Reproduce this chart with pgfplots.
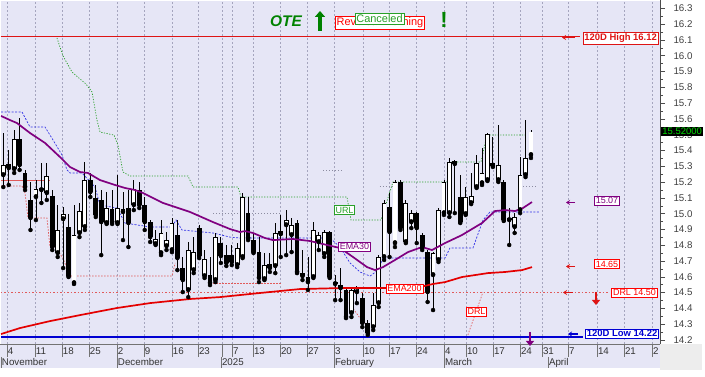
\documentclass[border=0pt]{standalone}
\usepackage{fontspec}
\setmainfont{Liberation Sans}
\usepackage{pgfplots}
\pgfplotsset{compat=1.18}
\usepackage{pgfplotstable}
\usetikzlibrary{arrows.meta}

\definecolor{bgl}{RGB}{230,230,246}
\definecolor{gridc}{RGB}{165,165,190}
\definecolor{emap}{RGB}{128,0,128}
\definecolor{emar}{RGB}{228,0,0}
\definecolor{hired}{RGB}{222,20,20}
\definecolor{lowblue}{RGB}{0,0,210}
\definecolor{tsblue}{RGB}{50,50,230}
\definecolor{urlg}{RGB}{40,160,40}
\definecolor{drlr}{RGB}{225,90,90}
\definecolor{otegreen}{RGB}{0,130,0}
\definecolor{dotg}{RGB}{140,140,160}
\definecolor{tagg}{RGB}{0,220,0}

\pgfplotstableread{
k o h l c
0 15.245 15.511 15.169 15.308
1 15.315 15.403 15.182 15.289
2 15.283 15.530 15.258 15.473
3 15.473 15.606 15.277 15.308
4 15.258 15.277 15.150 15.169
5 15.087 15.201 14.897 14.973
6 15.106 15.213 14.960 15.156
7 15.150 15.321 15.068 15.163
8 15.131 15.321 15.087 15.239
9 15.112 15.150 14.770 14.789
10 14.751 15.055 14.726 14.897
11 14.966 15.042 14.656 14.998
12 14.916 14.998 14.599 14.605
13 14.561 15.055 14.555 14.865
14 14.878 15.068 14.852 15.017
15 14.916 15.327 14.897 15.213
16 15.213 15.258 15.106 15.137
17 15.099 15.182 14.979 14.992
18 15.087 15.150 14.738 14.947
19 14.941 15.137 14.935 15.036
20 15.030 15.150 14.935 14.947
21 14.941 15.245 14.935 15.036
22 15.011 15.137 14.833 15.030
23 15.036 15.150 14.789 14.941
24 15.055 15.213 15.023 15.156
25 15.150 15.201 15.036 15.055
26 15.055 15.106 14.897 14.947
27 14.947 14.960 14.821 14.852
28 14.808 14.897 14.802 14.840
29 14.751 14.960 14.738 14.878
30 14.795 14.884 14.770 14.833
31 14.770 14.973 14.757 14.941
32 14.865 14.960 14.643 14.719
33 14.656 14.726 14.504 14.580
34 14.517 14.821 14.472 14.770
35 14.643 14.852 14.624 14.757
36 14.909 14.928 14.719 14.732
37 14.605 14.770 14.593 14.713
38 14.612 14.726 14.548 14.561
39 14.580 14.878 14.567 14.852
40 14.814 14.852 14.688 14.732
41 14.738 14.802 14.669 14.688
42 14.738 14.802 14.675 14.694
43 14.675 14.814 14.662 14.783
44 14.726 15.131 14.719 15.106
45 15.004 15.106 14.833 14.846
46 14.833 14.878 14.751 14.757
47 14.757 14.852 14.567 14.593
48 14.586 14.751 14.580 14.675
49 14.681 14.751 14.631 14.656
50 14.669 14.941 14.624 14.878
51 14.871 14.992 14.726 14.890
52 14.928 15.023 14.738 14.960
53 14.865 14.973 14.757 14.928
54 14.941 14.960 14.624 14.631
55 14.624 14.770 14.580 14.605
56 14.599 14.726 14.517 14.567
57 14.599 14.947 14.593 14.897
58 14.821 14.884 14.770 14.865
59 14.745 14.897 14.726 14.884
60 14.884 14.890 14.593 14.599
61 14.567 14.612 14.453 14.555
62 14.548 14.656 14.453 14.529
63 14.517 14.529 14.339 14.346
64 14.371 14.536 14.346 14.517
65 14.504 14.542 14.434 14.529
66 14.466 14.498 14.282 14.308
67 14.308 14.327 14.232 14.244
68 14.282 14.498 14.263 14.422
69 14.434 14.738 14.409 14.726
70 14.726 15.087 14.707 15.068
71 15.042 15.131 14.726 14.884
72 14.814 15.213 14.789 15.201
73 15.201 15.213 14.897 14.909
74 14.821 15.087 14.814 15.068
75 14.947 15.023 14.909 15.004
76 15.004 15.011 14.814 14.909
77 14.865 14.878 14.770 14.783
78 14.757 14.770 14.441 14.504
79 14.612 14.757 14.390 14.751
80 14.707 15.036 14.694 15.023
81 15.004 15.213 14.992 15.201
82 15.004 15.353 14.979 15.327
83 15.334 15.340 15.004 15.315
84 15.106 15.245 14.941 14.947
85 14.998 15.169 14.992 15.106
86 15.068 15.258 15.061 15.112
87 15.169 15.372 15.163 15.321
88 15.194 15.416 15.182 15.258
89 15.213 15.511 15.207 15.505
90 15.321 15.486 15.296 15.302
91 15.213 15.562 15.201 15.308
92 15.201 15.213 14.954 14.960
93 14.973 15.036 14.802 14.960
94 14.916 15.004 14.878 14.979
95 15.023 15.359 15.004 15.245
96 15.245 15.593 15.232 15.353
97 15.372 15.530 15.353 15.520
}\candles

\tikzset{lbl/.style={draw=#1, text=#1, fill=white, inner sep=1.3bp, line width=0.6bp, font=\fontsize{9}{10}\selectfont}}

\begin{document}
\begin{tikzpicture}
\useasboundingbox (0,0) rectangle (705bp,377bp);
\fill[white] (0,0) rectangle (705bp,377bp);
\begin{axis}[
  at={(1bp,33bp)}, anchor=south west,
  scale only axis, width=659bp, height=343bp,
  xmin=-0.423, xmax=120.72, ymin=14.175, ymax=16.347,
  axis background/.style={fill=bgl},
  axis line style={draw=none},
  xtick={0.68,5.83,10.79,15.75,20.90,25.86,31.01,35.79,40.20,42.04,45.90,50.86,55.83,60.79,66.12,70.90,75.86,81.01,85.06,90.02,94.98,99.03,103.80,109.10,114.10,119.25},
  xticklabels={},
  xtick style={draw=none},
  xmajorgrids,
  major x grid style={gridc, dash pattern=on 2bp off 2bp, line width=0.5bp},
  ytick={14.2,14.3,14.4,14.5,14.6,14.7,14.8,14.9,15.0,15.1,15.2,15.3,15.4,15.5,15.6,15.7,15.8,15.9,16.0,16.1,16.2,16.3},
  minor y tick num=1,
  ytick pos=right, yticklabel pos=right,
  tick align=outside,
  major tick length=5bp, minor tick length=3bp,
  ytick style={black!70, line width=0.6bp},
  yticklabel style={font=\fontsize{9.8}{10}\selectfont, text=black!75, anchor=west, xshift=5bp,
    /pgf/number format/.cd, fixed, fixed zerofill, precision=1, assume math mode=true},
]
% level lines
\addplot[hired, line width=1.3bp] coordinates {(-0.5,16.12) (106.0,16.12)};
\addplot[lowblue, line width=1.3bp] coordinates {(-0.5,14.22) (106.6,14.22)};
\addplot[drlr, line width=0.7bp, dash pattern=on 1.5bp off 2bp] coordinates {(-0.5,14.50) (111.2,14.50)};
\addplot[drlr, line width=1bp] coordinates {(-0.5,15.209) (8.58,15.209)};
% gray dotted levels
\addplot[dotg, line width=0.7bp, dash pattern=on 1bp off 2bp] coordinates {(38.55,15.004) (51.23,15.004)};
\addplot[dotg, line width=0.7bp, dash pattern=on 1bp off 2bp] coordinates {(58.77,15.277) (62.26,15.277)};
\addplot[dotg, line width=0.7bp, dash pattern=on 1bp off 2bp] coordinates {(69.24,15.175) (73.47,15.175)};
\addplot[dotg, line width=0.7bp, dash pattern=on 1bp off 2bp] coordinates {(95.0,15.175) (98.1,15.175)};
% DRL stepped
\addplot[drlr, line width=0.7bp, dash pattern=on 1.5bp off 1.5bp] coordinates {(-0.42,15.175) (3.44,15.175) (3.99,15.131) (4.54,14.973) (8.03,14.973) (8.58,14.789) (9.50,14.789) (10.97,14.719) (12.26,14.605) (31.01,14.605) (31.6,14.688)};
\addplot[drlr, line width=0.7bp, dash pattern=on 1.5bp off 1.5bp] coordinates {(38.55,14.561) (51.23,14.561)};
\addplot[drlr, line width=0.7bp, dash pattern=on 1.5bp off 1.5bp] coordinates {(62.81,14.453) (64.10,14.409) (65.57,14.339) (67.04,14.289)};
\addplot[drlr, line width=0.7bp, dash pattern=on 1.5bp off 1.5bp] coordinates {(85.4,14.232) (88.18,14.504)};
% URL green dotted
\addplot[urlg, line width=0.7bp, dash pattern=on 1.2bp off 1.5bp] coordinates {(9.87,16.113) (10.97,16.000) (12.63,15.897) (15.20,15.821) (16.31,15.771) (17.22,15.593) (17.78,15.517) (20.35,15.498) (21.08,15.435) (22.00,15.264) (23.29,15.239) (33.95,15.239) (34.87,15.169) (43.14,15.169) (43.70,15.106) (63.18,15.106) (63.92,14.960) (69.43,14.960) (71.64,15.201) (81.56,15.201) (82.30,15.327) (87.81,15.327) (88.92,15.498) (96.27,15.498)};
% trailing stop blue dashed
\addplot[tsblue, line width=0.7bp, dash pattern=on 2bp off 1.5bp] coordinates {(-0.42,15.644) (3.44,15.644) (4.91,15.549) (7.67,15.549) (9.14,15.467) (10.79,15.372) (11.71,15.277) (12.26,15.258) (14.47,15.258) (16.86,15.169) (17.78,15.055) (20.90,15.036) (22.37,14.941) (26.97,14.916) (31.01,14.916) (31.75,14.960) (32.85,14.897) (38.55,14.878) (41.67,14.852) (43.51,14.846) (60.05,14.846) (61.89,14.789) (63.73,14.688) (65.57,14.631) (67.41,14.605) (68.88,14.643) (69.80,14.719) (81.20,14.719) (82.11,14.783) (86.34,14.783) (88.18,14.960) (89.46,15.011) (98.66,15.011)};
% candles: wicks
\addplot[only marks, mark=none, forget plot, error bars/.cd, y dir=plus, y explicit, error mark=none,
  error bar style={draw=black, line width=0.8bp}]
  table[x=k, y=l, y error expr=\thisrow{h}-\thisrow{l}] {\candles};
% bodies
\addplot[only marks, mark=none, forget plot, error bars/.cd, y dir=plus, y explicit, error mark=none,
  error bar style={draw=black, line width=4.8bp, line cap=butt}]
  table[x=k, y expr={min(\thisrow{o},\thisrow{c})}, y error expr={max(abs(\thisrow{c}-\thisrow{o}),0.004)}] {\candles};
\addplot[only marks, mark=none, forget plot, error bars/.cd, y dir=plus, y explicit, error mark=none,
  error bar style={draw=white, line width=3.1bp, line cap=butt}]
  table[x=k, y expr={min(\thisrow{o},\thisrow{c})+0.0045}, y error expr={(\thisrow{c}>\thisrow{o}) ? max(\thisrow{c}-\thisrow{o}-0.009,0) : 0}] {\candles};
% EMA lines
\addplot[emar, line width=1.7bp] coordinates {(-0.42,14.238) (3.07,14.276) (8.58,14.320) (14.10,14.358) (20.90,14.403) (26.97,14.434) (34.32,14.460) (39.83,14.472) (47.19,14.498) (54.54,14.523) (61.89,14.529) (69.24,14.529) (76.60,14.536) (78.99,14.555) (81.20,14.567) (84.32,14.599) (89.10,14.624) (92.24,14.631) (95.35,14.643) (97.19,14.662)};
\addplot[emap, line width=1.7bp] coordinates {(-0.42,15.619) (1.23,15.593) (2.52,15.574) (4.91,15.511) (7.67,15.448) (10.42,15.359) (12.26,15.296) (14.10,15.264) (15.57,15.258) (17.78,15.213) (20.53,15.182) (22.37,15.163) (24.21,15.150) (25.68,15.131) (29.36,15.068) (34.32,15.011) (38.55,14.947) (41.67,14.903) (43.51,14.884) (44.43,14.890) (45.90,14.878) (48.11,14.846) (49.58,14.833) (53.25,14.840) (56.38,14.827) (59.50,14.802) (61.89,14.783) (64.28,14.726) (66.86,14.662) (68.33,14.643) (69.80,14.662) (72.00,14.707) (74.39,14.757) (76.97,14.789) (78.81,14.770) (81.20,14.814) (84.32,14.865) (88.00,14.941) (90.39,15.017) (92.24,15.023) (94.08,15.017) (95.53,15.036) (97.19,15.074)};
\end{axis}
\begin{scope}[x=1bp, y=-1bp, shift={(0,377bp)}]
% right spine
\draw[black!70, line width=0.7bp] (660,0) -- (660,344);
% date rows
\fill[bgl] (0,344) rectangle (660,368);
\fill[black!7] (660,344) rectangle (702,370);
\draw[black!55, line width=0.6bp] (0,344) -- (660,344);
\foreach \p/\t in {7/4,35/11,62/18,89/25,117/2,144/9,172/16,198/23,222/{},232/7,253/13,280/20,307/27,334/3,363/10,389/17,416/24,444/4,466/10,493/17,520/24,542/31,568/7,597/14,624/21,652/2}{
  \draw[black!55, line width=0.6bp] (\p,345) -- (\p,357);
  \node[anchor=west, inner sep=0.8bp, font=\fontsize{9.8}{10}\selectfont, text=black!80] at (\p,351.5) {\t};
}
\foreach \p/\t in {1/November,117/December,221/2025,334/February,444/March,548/April}{
  \draw[black!55, line width=0.6bp] (\p,357) -- (\p,368);
  \node[anchor=west, inner sep=0.8bp, font=\fontsize{9.8}{10}\selectfont, text=black!80] at (\p,362.5) {\t};
}
% top annotations
\node[text=otegreen, font=\bfseries\itshape\fontsize{15.5}{16}\selectfont] at (286,21) {OTE};
\draw[-{Triangle[length=6bp,width=10bp]}, line width=3.5bp, otegreen] (320,31) -- (320,11);
\node[lbl=red, font=\fontsize{11}{12}\selectfont] at (380,22.5) {Reversal Warning};
\node[lbl=urlg, font=\fontsize{11}{12}\selectfont] at (379.5,18.5) {Canceled};
\node[text=otegreen, font=\bfseries\fontsize{22}{24}\selectfont] at (444,20) {!};
% in-plot labels
\node[lbl=urlg] at (344.5,210) {URL};
\node[lbl=emap] at (354.5,246.5) {EMA30};
\node[lbl=red] at (404.5,288.5) {EMA200};
\node[lbl=red] at (476.5,311.5) {DRL};
% right labels
\node[lbl=hired, font=\bfseries\fontsize{9.5}{10}\selectfont, anchor=east] at (658.5,38.5) {120D High 16.12};
\node[lbl=lowblue, font=\bfseries\fontsize{9.5}{10}\selectfont, anchor=east] at (659,333.5) {120D Low 14.22};
\node[lbl=emap] at (607,200.5) {15.07};
\node[lbl=red] at (607,264) {14.65};
\node[lbl=red, anchor=east] at (657.5,292.5) {DRL 14.50};
\draw[-{Stealth[length=4bp,width=5bp]}, line width=1.6bp, hired] (575,37.5) -- (562,37.5);
\draw[-{Stealth[length=4bp,width=5bp]}, line width=1.6bp, emap] (575,202.5) -- (566,202.5);
\draw[-{Stealth[length=4bp,width=5bp]}, line width=1.6bp, hired] (575,266.5) -- (566,266.5);
\draw[-{Stealth[length=4bp,width=5bp]}, line width=1.6bp, hired] (573,292.5) -- (563,292.5);
\draw[-{Stealth[length=4bp,width=5bp]}, line width=1.6bp, lowblue] (578,334) -- (568,334);
\draw[-{Triangle[length=5bp,width=8bp]}, line width=2.6bp, hired] (596,292) -- (596,305);
\draw[-{Triangle[length=5bp,width=8bp]}, line width=2.6bp, emap] (530,332) -- (530,346);
% price tag
\node[fill=black, text=tagg, font=\fontsize{9.5}{10}\selectfont, inner sep=1.2bp, anchor=west] at (661,131.5) {15.52000};
\end{scope}
\end{tikzpicture}
\end{document}
